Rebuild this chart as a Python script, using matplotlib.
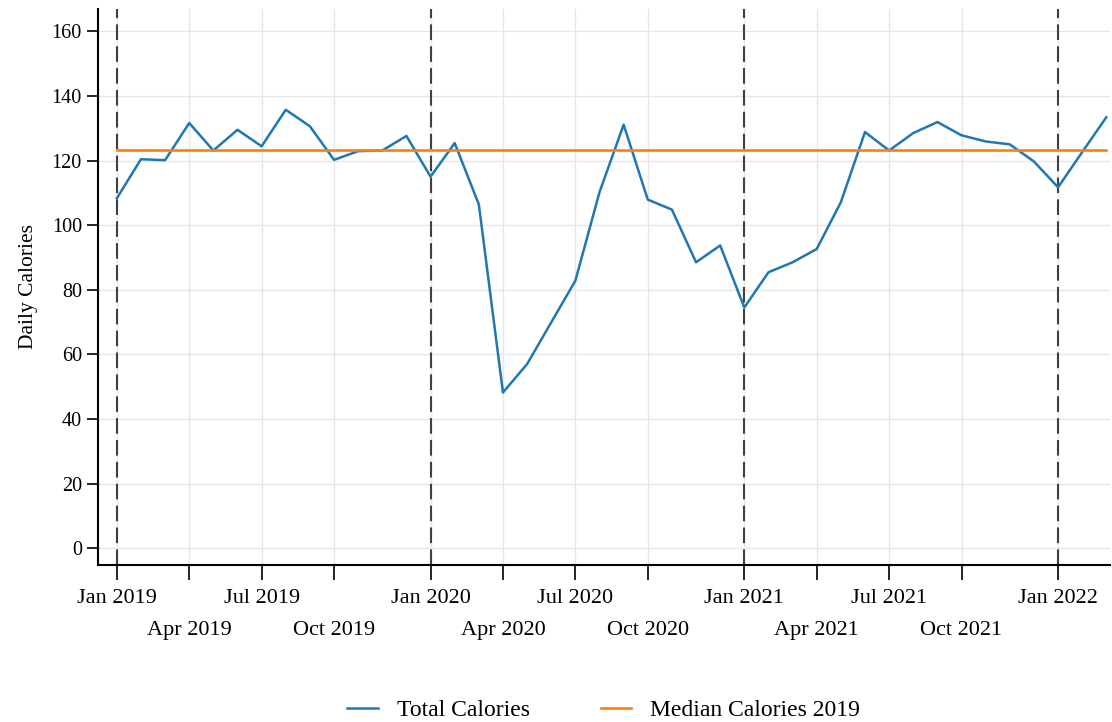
import pandas as pd
import numpy as np
import matplotlib
matplotlib.use('Agg')
import matplotlib.pyplot as plt

plt.rcParams['font.family'] = ['Liberation Serif', 'DejaVu Serif']

# 4-weekly periods starting Jan 2019
start_date = '2019-01-01'
n_periods = 42
total_calories = [108.3, 120.4, 120.1, 131.6, 123.1, 129.5, 124.4, 135.7, 130.6, 120.2,
                  122.9, 123.1, 127.6, 115.0, 125.4, 106.4, 48.2, 57.0, 69.9, 82.8,
                  110.2, 131.1, 107.9, 104.8, 88.5, 93.7, 74.5, 85.4, 88.5, 92.6,
                  107.1, 128.8, 123.1, 128.5, 131.9, 127.8, 125.9, 125.0, 119.7, 111.7,
                  122.6, 133.4]
# ticks sit on periods
tick_periods = [0, 3, 6, 9, 13, 16, 19, 22, 26, 29, 32, 35, 39]
tick_labels = ['Jan 2019', 'Apr 2019', 'Jul 2019', 'Oct 2019',
               'Jan 2020', 'Apr 2020', 'Jul 2020', 'Oct 2020',
               'Jan 2021', 'Apr 2021', 'Jul 2021', 'Oct 2021', 'Jan 2022']
year_periods = [0, 13, 26, 39]
y_ticks = [0, 20, 40, 60, 80, 100, 120, 140, 160]

dates = pd.date_range(start_date, periods=n_periods, freq='28D')
df = pd.DataFrame({'date': dates, 'calories': total_calories})
median_2019 = df.loc[df['date'].dt.year == 2019, 'calories'].median()

fig = plt.figure(figsize=(11.12, 7.22), dpi=100)
ax = fig.add_axes([0.088, 0.217, 0.91, 0.771])

ax.plot(df['date'], df['calories'], color='#1f77b4', lw=1.8, label='Total Calories', zorder=3)
ax.plot(df['date'], [median_2019] * len(df), color='#ff7f0e', lw=1.9,
        label='Median Calories 2019', zorder=3)

for p in year_periods:
    ax.axvline(df['date'][p], color='#404040', lw=1.5, dashes=(7.5, 3), zorder=2)

ax.set_xticks(df['date'][tick_periods])
ax.set_xticklabels(tick_labels, fontsize=16)

ax.set_xlim(pd.Timestamp('2018-12-10'), pd.Timestamp('2022-02-26'))
ax.set_ylim(-5.3, 167)
ax.set_yticks(y_ticks)
ax.tick_params(axis='y', labelsize=14.5, length=8, width=1.2, direction='out')
ax.tick_params(axis='x', length=11, width=1.2, direction='out', pad=6)

# second row of labels for Apr / Oct
for i, tick in enumerate(ax.xaxis.get_major_ticks()):
    if i % 2 == 1:
        tick.set_pad(29)

ax.grid(True, color='#e6e6e6', lw=1, zorder=0)
ax.set_axisbelow(True)
for s in ['top', 'right']:
    ax.spines[s].set_visible(False)
for s in ['left', 'bottom']:
    ax.spines[s].set_linewidth(1.5)
    ax.spines[s].set_color('black')

ax.set_ylabel('Daily Calories', fontsize=15.5, labelpad=10)

fig.legend(loc='center', bbox_to_anchor=(0.543, 0.016), ncol=2, frameon=False,
           fontsize=17, handlelength=1.3, columnspacing=3.0)

plt.savefig('out.png', dpi=100)
